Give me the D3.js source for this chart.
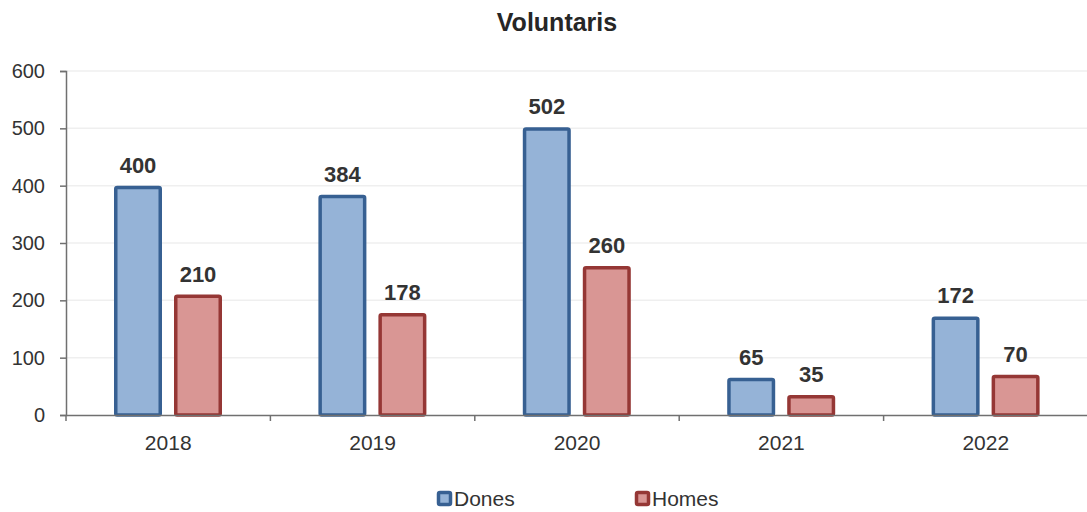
<!DOCTYPE html>
<html><head><meta charset="utf-8">
<script src="https://cdn.jsdelivr.net/npm/d3@7"></script>
<style>body{margin:0;background:#fff}svg{display:block}text{font-family:"Liberation Sans",Arial,sans-serif}</style>
</head><body>
<svg id="c" width="1087" height="512"></svg>
<script>
const categories = ["2018","2019","2020","2021","2022"];
const seriesNames = ["Dones","Homes"];
const dones = [400,384,502,65,172];
const homes = [210,178,260,35,70];
const yTicks = [0,100,200,300,400,500,600];
const fills = ["#95b3d7","#d99694"];
const strokes = ["#376092","#953735"];

const svg = d3.select("#c");
const m = {l:66, r:1088, t:71, b:415};
const x = d3.scaleBand().domain(categories).range([m.l, m.r]);
const x1 = d3.scaleBand().domain(seriesNames).range([48, 156]).paddingInner(0.2);
const y = d3.scaleLinear().domain([0,600]).range([m.b, m.t]);

svg.append("text").attr("x",557).attr("y",31).attr("text-anchor","middle")
  .style("font-size","25px").style("font-weight","bold").attr("fill","#262626").text("Voluntaris");

// grid
svg.append("g").selectAll("line").data(yTicks.filter(d=>d>0)).join("line")
  .attr("x1",m.l).attr("x2",m.r).attr("y1",d=>y(d)).attr("y2",d=>y(d))
  .attr("stroke","#efefef").attr("stroke-width",1.5);

const data = categories.map((c,i)=>({c, vals:[dones[i],homes[i]]}));
const g = svg.append("g");
data.forEach(d=>{
  d.vals.forEach((v,j)=>{
    const bx = x(d.c) + x1(seriesNames[j]);
    const bw = x1.bandwidth();
    g.append("rect").attr("x",bx+1.75).attr("y",y(v)+1.75).attr("width",bw-3.5).attr("height",y(0)-y(v)-1.75)
      .attr("fill",fills[j]).attr("stroke",strokes[j]).attr("stroke-width",3.5).attr("rx",1.5);
    g.append("text").attr("x",bx+bw/2).attr("y",y(v)-13).attr("text-anchor","middle")
      .style("font-size","22px").style("font-weight","bold").attr("fill","#333").text(v);
  });
});

// axes
const yAxis = d3.axisLeft(y).tickValues(yTicks).tickSize(6).tickPadding(15);
const ya = svg.append("g").attr("transform",`translate(${m.l},0)`).call(yAxis);
ya.select(".domain").attr("stroke","#707070").attr("stroke-width",1.5);
ya.selectAll(".tick line").attr("stroke","#707070").attr("stroke-width",1.5);
ya.selectAll(".tick text").style("font-size","20px").attr("fill","#333").attr("font-family","Liberation Sans, Arial, sans-serif");

const xAxis = d3.axisBottom(x).tickSize(0).tickPadding(20);
const xa = svg.append("g").attr("transform",`translate(0,${m.b})`).call(xAxis);
xa.select(".domain").attr("stroke","#707070").attr("stroke-width",1.5);
xa.selectAll(".tick text").style("font-size","21px").attr("fill","#333").attr("font-family","Liberation Sans, Arial, sans-serif");
const bounds = categories.map(c=>x(c)).concat([m.r]);
svg.append("g").selectAll("line").data(bounds).join("line")
  .attr("x1",d=>d).attr("x2",d=>d).attr("y1",m.b).attr("y2",m.b+6)
  .attr("stroke","#707070").attr("stroke-width",1.5);

// legend
const lx = [437, 635];
seriesNames.forEach((s,j)=>{
  svg.append("rect").attr("x",lx[j]+1.5).attr("y",492.5).attr("width",12).attr("height",12)
    .attr("fill",fills[j]).attr("stroke",strokes[j]).attr("stroke-width",3.5).attr("rx",1.5);
  svg.append("text").attr("x",lx[j]+17).attr("y",506).style("font-size","21px").attr("fill","#333").text(s);
});
</script>
</body></html>
